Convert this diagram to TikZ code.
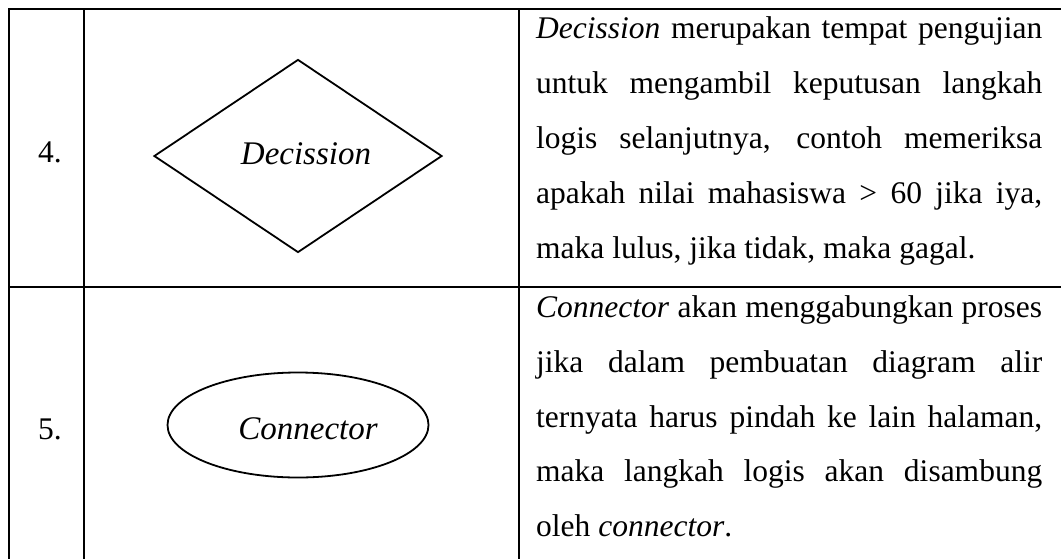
\documentclass[tikz,border=0pt]{standalone}
\usepackage{fontspec}
\setmainfont{Liberation Serif}
\usetikzlibrary{shapes.geometric}
\begin{document}
\begin{tikzpicture}[x=1pt,y=-1pt,
  rule/.style={line width=2.2pt,line cap=rect},
  shapeline/.style={draw,line width=1.8pt},
  ln/.style={anchor=base west,inner sep=0pt,font=\fontsize{31.5}{38}\selectfont},
  num/.style={anchor=base,inner sep=0pt,font=\fontsize{31.5}{38}\selectfont},
  lbl/.style={anchor=base,inner sep=0pt,font=\fontsize{33}{40}\selectfont\itshape}]
\useasboundingbox (0,0) rectangle (1061,558);
% table rules
\coordinate (tl) at (9,9);
\coordinate (tr) at (1061,9);
\coordinate (ml) at (9,287);
\coordinate (mr) at (1061,287);
\coordinate (bl) at (9,558);
\coordinate (c1t) at (84,9);
\coordinate (c1b) at (84,558);
\coordinate (c2t) at (519,9);
\coordinate (c2b) at (519,558);
\draw[rule] (tl) -- (tr);
\draw[rule] (ml) -- (mr);
\draw[rule] (tl) -- (bl);
\draw[rule] (c1t) -- (c1b);
\draw[rule] (c2t) -- (c2b);
% row 4
\node[num] (n4) at (50,162) {4.};
\node[shapeline,diamond,aspect=1.5,minimum width=288pt,minimum height=193pt,inner sep=0pt] (dec) at (298,156) {};
\node[lbl] (dect) at (306,164) {Decission};
\node[ln] (a1) at (536,38) {\makebox[506pt][s]{\textit{Decission} merupakan tempat pengujian}};
\node[ln] (a2) at (536,93) {\makebox[506pt][s]{untuk mengambil keputusan langkah}};
\node[ln] (a3) at (536,148) {\makebox[506pt][s]{logis selanjutnya, contoh memeriksa}};
\node[ln] (a4) at (536,203) {\makebox[506pt][s]{apakah nilai mahasiswa > 60 jika iya,}};
\node[ln] (a5) at (536,258) {maka lulus, jika tidak, maka gagal.};
% row 5
\node[num] (n5) at (50,439) {5.};
\node[shapeline,ellipse,minimum width=261pt,minimum height=105pt,inner sep=0pt] (con) at (298,425) {};
\node[lbl] (cont) at (308,439) {Connector};
\node[ln] (b1) at (536,317) {\makebox[506pt][s]{\textit{Connector} akan menggabungkan proses}};
\node[ln] (b2) at (536,372) {\makebox[506pt][s]{jika dalam pembuatan diagram alir}};
\node[ln] (b3) at (536,427) {\makebox[506pt][s]{ternyata harus pindah ke lain halaman,}};
\node[ln] (b4) at (536,481) {\makebox[506pt][s]{maka langkah logis akan disambung}};
\node[ln] (b5) at (536,536) {oleh \textit{connector}.};
\end{tikzpicture}
\end{document}
